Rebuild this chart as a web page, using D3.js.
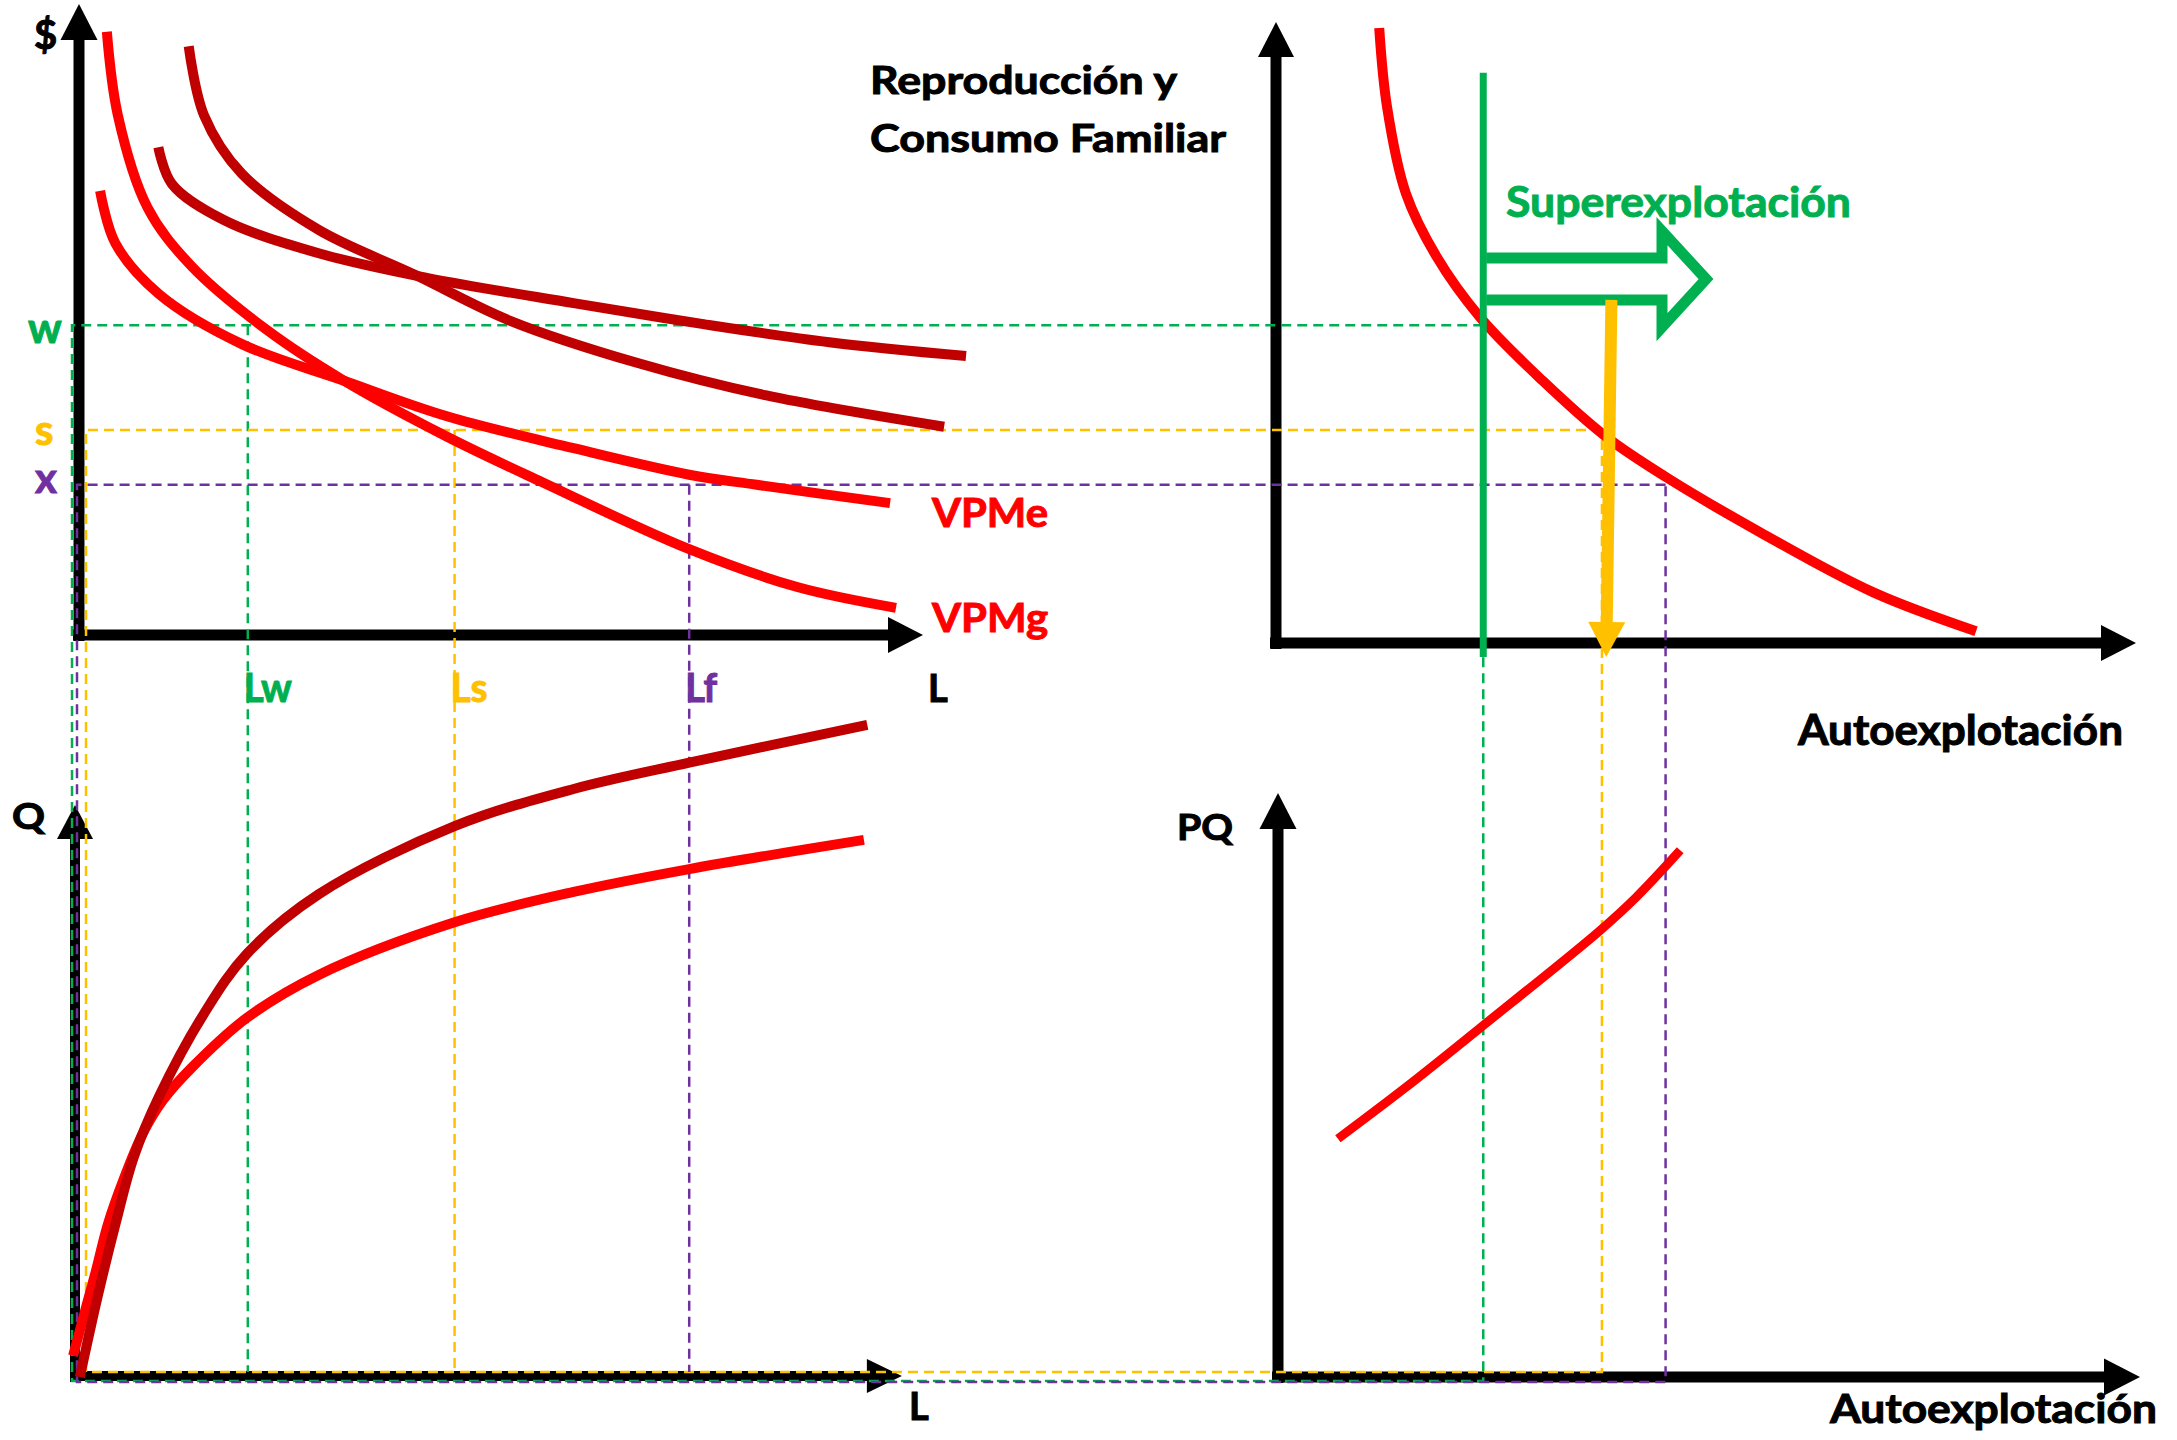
<!DOCTYPE html>
<html>
<head>
<meta charset="utf-8">
<script src="https://cdn.jsdelivr.net/npm/d3@7"></script>
<style>
  body { margin: 0; background: #fff; }
  text { font-family: Lato, 'Open Sans', sans-serif; font-weight: 700; }
</style>
</head>
<body>
<div class="chart"></div>
<script>
// levels on the $ axis (w, s, x)
var levelNames = ['w', 's', 'x'];
var levelValues = [49.1, 32.5, 23.8];
// labour L at each level
var laborNames = ['Lw', 'Ls', 'Lf'];
var laborValues = [20.0, 44.5, 72.3];
// autoexplotacion at each level
var autoValues = [24.1, 37.9, 45.3];

// top left: value curves  [L, $]
var vpmg = [[3.3, 95.6], [4.6, 82.4], [8.1, 67.8], [13.3, 58.5], [22.4, 48.2], [31.4, 40.3],
  [43.5, 31.5], [54.9, 24.2], [72.3, 13.6], [85.1, 7.6], [96.8, 4.3]];
var vpme = [[2.5, 70.4], [4.3, 62.1], [9.5, 54.0], [19.3, 46.1], [31.4, 40.3], [43.5, 34.7],
  [58.6, 29.6], [72.3, 25.4], [80.3, 23.8], [96.1, 20.9]];
var vpmgHigh = [[13.0, 93.3], [14.8, 82.4], [19.3, 73.1], [28.4, 64.2], [39.8, 57.1], [51.1, 49.8],
  [66.2, 43.1], [81.3, 38.0], [102.5, 33.0]];
var vpmeHigh = [[9.4, 77.3], [11.0, 71.5], [17.1, 65.8], [28.4, 60.5], [41.2, 56.6], [58.6, 52.6],
  [73.8, 49.3], [88.9, 46.4], [105.1, 44.2]];

// bottom left: production curves  [L, Q]
var qHigh = [[0.1, 0], [2.2, 14.0], [4.3, 26.6], [6.5, 38.5], [9.5, 49.1], [14.8, 63.5], [19.9, 74.0],
  [28.4, 84.4], [44.5, 96.3], [58.6, 102.8], [72.3, 107.4], [93.4, 114.0]];
var qLow = [[-0.7, 3.7], [0.8, 12.0], [2.0, 18.5], [3.4, 26.6], [5.3, 34.6], [7.6, 42.7], [10.0, 48.5],
  [13.3, 54.0], [19.9, 62.8], [28.4, 70.3], [44.5, 79.5], [58.6, 84.8], [72.3, 88.8], [93.0, 93.9]];

// top right: reproduction curve  [A, $]
var reproduccion = [[12.0, 96.2], [12.9, 83.8], [15.1, 70.0], [18.7, 59.9], [23.7, 50.4], [31.0, 40.3],
  [38.3, 31.5], [45.5, 24.9], [56.4, 16.2], [69.4, 6.8], [81.4, 0.6]];

// bottom right: PQ curve  [A, PQ]
var pq = [[7.2, 40.9], [15.1, 49.7], [23.7, 59.8], [37.6, 76.4], [41.9, 82.2], [47.0, 90.2]];

// superexplotacion: green limit, shift arrow, yellow drop arrow
var limitLine = [[24.1, 89.1], [24.1, -3.5]];
var shiftArrow = [24.1, 50.0];
var shiftLevel = 56.4;
var dropArrow = [[39.0, 53.1], [38.4, -3.5]];

var width = 2177, height = 1440;

var svg = d3.select('.chart')
  .append('svg')
    .attr('width', width)
    .attr('height', height);

// scales, one per axis
var xL = d3.scaleLinear().domain([0, 100]).range([79, 923]);
var yP = d3.scaleLinear().domain([0, 100]).range([635, 4]);
var yQ = d3.scaleLinear().domain([0, 100]).range([1377, 805]);
var xA = d3.scaleLinear().domain([0, 100]).range([1276, 2136]);
var yPQ = d3.scaleLinear().domain([0, 100]).range([1378, 793]);

var RED = '#FF0000', DARK = '#C00000', GREEN = '#00B050', YELLOW = '#FFC000', PURPLE = '#7030A0';
var levelColors = [GREEN, YELLOW, PURPLE];

// arrow: line up to the base of a triangular head
function arrow(g, x1, y1, x2, y2, w, headLen, headW, color) {
  var dx = x2 - x1, dy = y2 - y1, len = Math.sqrt(dx * dx + dy * dy);
  var ux = dx / len, uy = dy / len;
  var bx = x2 - ux * headLen, by = y2 - uy * headLen;
  g.append('line')
    .attr('x1', x1).attr('y1', y1).attr('x2', bx + ux).attr('y2', by + uy)
    .attr('stroke', color).attr('stroke-width', w);
  g.append('path')
    .attr('d', 'M' + (bx - uy * headW / 2) + ',' + (by + ux * headW / 2) +
      'L' + x2 + ',' + y2 +
      'L' + (bx + uy * headW / 2) + ',' + (by - ux * headW / 2) + 'Z')
    .attr('fill', color);
}

// axes
var axisG = svg.append('g');
arrow(axisG, xL(0), yP(0) + 6, xL(0), yP(100), 11, 36, 37, '#000');
arrow(axisG, xL(0) - 6, yP(0), xL(100), yP(0), 11, 35, 36, '#000');
arrow(axisG, xL(0) - 4, yQ(0) + 5, xL(0) - 4, yQ(100), 10, 34, 36, '#000');
arrow(axisG, xL(0) - 9, yQ(0) - 1, xL(97.5), yQ(0) - 1, 10, 35, 34, '#000');
arrow(axisG, xA(0), 649, xA(0), 22, 11, 35, 36, '#000');
arrow(axisG, xA(0) - 6, 643, xA(100), 643, 11, 35, 36, '#000');
arrow(axisG, xA(0) + 2, yPQ(0) + 5, xA(0) + 2, yPQ(100), 11, 36, 37, '#000');
arrow(axisG, xA(0) - 4, yPQ(0) - 1, xA(100) + 4, yPQ(0) - 1, 11, 36, 37, '#000');

// dashed guides for each level
var guideLeft = [72, 86, 77];
var guideBottom = [1381, 1372, 1382];
var guideG = svg.append('g')
  .attr('fill', 'none')
  .attr('stroke-width', 2.5)
  .attr('stroke-dasharray', '10,6');

levelValues.forEach(function(v, i) {
  var xr = xA(autoValues[i]), yl = yP(v);
  guideG.append('path')
    .attr('d', 'M' + xr + ',' + yl + 'L' + guideLeft[i] + ',' + yl +
      'L' + guideLeft[i] + ',' + guideBottom[i] + 'L' + xr + ',' + guideBottom[i] + 'Z')
    .attr('stroke', levelColors[i]);
  guideG.append('line')
    .attr('x1', xL(laborValues[i])).attr('y1', yl)
    .attr('x2', xL(laborValues[i])).attr('y2', yQ(0) - 5)
    .attr('stroke', levelColors[i]);
});

// curves
var smooth = d3.curveCatmullRom.alpha(0.5);
var lineTop = d3.line().x(function(d) { return xL(d[0]); }).y(function(d) { return yP(d[1]); }).curve(smooth);
var lineQ = d3.line().x(function(d) { return xL(d[0]); }).y(function(d) { return yQ(d[1]); }).curve(smooth);
var lineR = d3.line().x(function(d) { return xA(d[0]); }).y(function(d) { return yP(d[1]); }).curve(smooth);
var linePQ = d3.line().x(function(d) { return xA(d[0]); }).y(function(d) { return yPQ(d[1]); }).curve(smooth);

var curveG = svg.append('g').attr('fill', 'none').attr('stroke-width', 10);
curveG.append('path').attr('d', lineTop(vpmeHigh)).attr('stroke', DARK);
curveG.append('path').attr('d', lineTop(vpmgHigh)).attr('stroke', DARK);
curveG.append('path').attr('d', lineTop(vpme)).attr('stroke', RED);
curveG.append('path').attr('d', lineTop(vpmg)).attr('stroke', RED);
curveG.append('path').attr('d', lineQ(qLow)).attr('stroke', RED);
curveG.append('path').attr('d', lineQ(qHigh)).attr('stroke', DARK);
curveG.append('path').attr('d', lineR(reproduccion)).attr('stroke', RED);
curveG.append('path').attr('d', linePQ(pq)).attr('stroke', RED).attr('stroke-width', 9);

// green limit and shift arrow
svg.append('line')
  .attr('x1', xA(limitLine[0][0])).attr('y1', yP(limitLine[0][1]))
  .attr('x2', xA(limitLine[1][0])).attr('y2', yP(limitLine[1][1]))
  .attr('stroke', GREEN).attr('stroke-width', 7);

var ax0 = xA(shiftArrow[0]) + 3, axT = xA(shiftArrow[1]), ay = yP(shiftLevel);
var headBase = axT - 44;
svg.append('path')
  .attr('d', 'M' + ax0 + ',' + (ay - 21) + 'L' + headBase + ',' + (ay - 21) +
    'L' + headBase + ',' + (ay - 48) + 'L' + axT + ',' + ay +
    'L' + headBase + ',' + (ay + 48) + 'L' + headBase + ',' + (ay + 21) +
    'L' + ax0 + ',' + (ay + 21))
  .attr('fill', 'none').attr('stroke', GREEN).attr('stroke-width', 11)
  .attr('stroke-linejoin', 'miter');

// yellow drop arrow
arrow(svg.append('g'), xA(dropArrow[0][0]), yP(dropArrow[0][1]), xA(dropArrow[1][0]), yP(dropArrow[1][1]),
  12, 35, 37, YELLOW);

// labels (thin outline in the same colour to get a heavier weight)
function label(txt, x, y, size, color, len) {
  var t = svg.append('text')
    .attr('x', x).attr('y', y)
    .attr('font-size', size)
    .attr('fill', color)
    .attr('stroke', color)
    .attr('stroke-width', 1)
    .text(txt);
  if (len) t.attr('textLength', len).attr('lengthAdjust', 'spacingAndGlyphs');
  return t;
}

label('$', 34, 49, 40, '#000');
label('Q', 12, 829, 36, '#000', 33);
label('PQ', 1177, 840, 36, '#000', 56);
label('L', 928, 702, 38, '#000');
label('L', 909, 1420, 38, '#000');

var levelLabelX = [28, 35, 35];
var levelLabelY = [343, 445, 493];
levelNames.forEach(function(n, i) {
  label(n, levelLabelX[i], levelLabelY[i], 42, levelColors[i]);
});
var laborLabelLen = [48, 37, 32];
laborNames.forEach(function(n, i) {
  label(n, xL(laborValues[i]) - 4, 702, 40, levelColors[i], laborLabelLen[i]);
});

label('VPMe', 932, 527, 40, RED, 116);
label('VPMg', 932, 632, 40, RED, 116);
label('Reproducción y', 870, 94, 39, '#000', 307);
label('Consumo Familiar', 870, 152, 39, '#000', 356);
label('Superexplotación', 1506, 217, 42, GREEN, 345);
label('Autoexplotación', 1798, 745, 42, '#000', 325);
label('Autoexplotación', 1830, 1423, 41, '#000', 327);
</script>
</body>
</html>
